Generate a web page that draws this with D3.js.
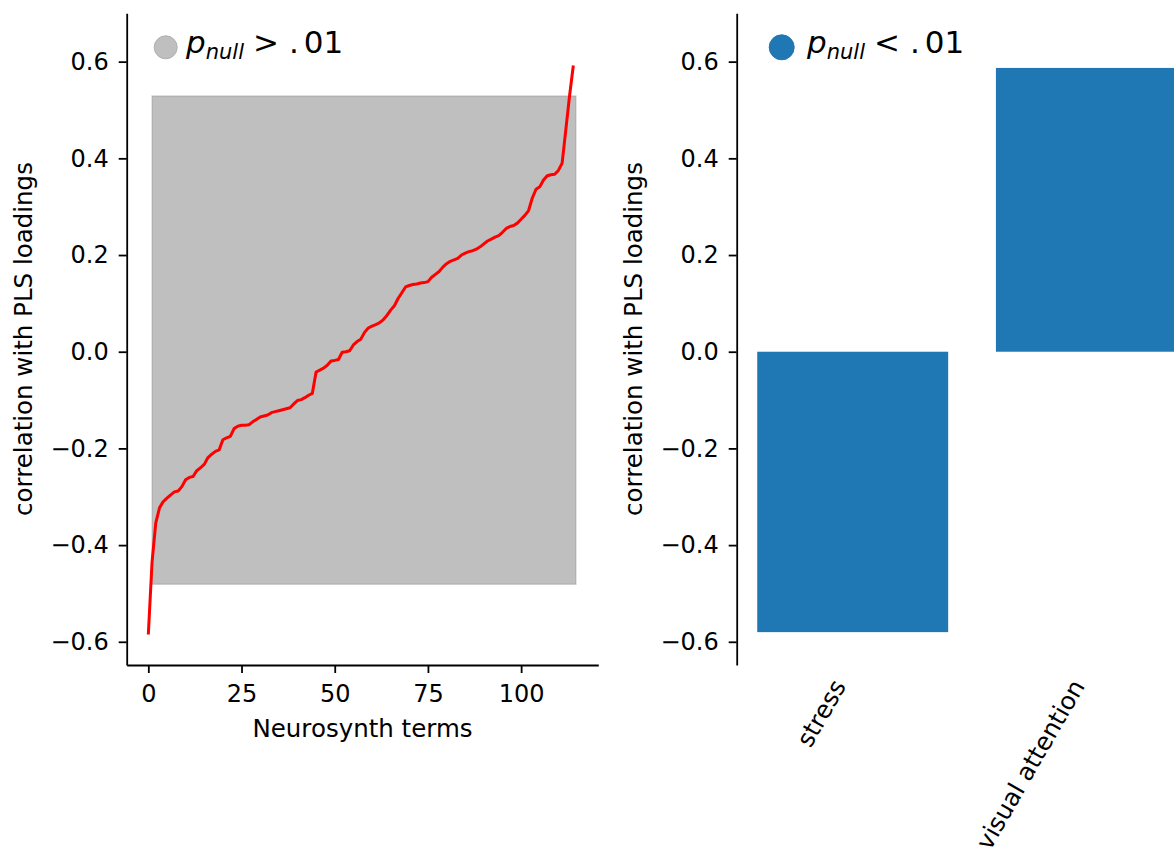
<!DOCTYPE html>
<html>
<head>
<meta charset="utf-8">
<script src="https://cdn.jsdelivr.net/npm/d3@7"></script>
<style>
  body { margin: 0; background: #fff; }
  svg { display: block; font-family: "DejaVu Sans", sans-serif; }
</style>
</head>
<body>
<svg id="drawing_region"></svg>
<script>
// sorted correlations of every Neurosynth term with the PLS loadings
const corrValues = [
  -0.585, -0.435, -0.354, -0.323, -0.310, -0.303, -0.296, -0.290, -0.288, -0.279,
  -0.265, -0.260, -0.258, -0.246, -0.240, -0.233, -0.219, -0.212, -0.206, -0.203,
  -0.182, -0.178, -0.175, -0.159, -0.154, -0.152, -0.152, -0.151, -0.145, -0.140,
  -0.135, -0.133, -0.131, -0.126, -0.124, -0.122, -0.120, -0.118, -0.116, -0.108,
  -0.101, -0.099, -0.095, -0.090, -0.086, -0.042, -0.038, -0.034, -0.028, -0.019,
  -0.018, -0.016, -0.001, 0.000, 0.002, 0.014, 0.021, 0.026, 0.040, 0.049,
  0.053, 0.056, 0.060, 0.066, 0.075, 0.086, 0.095, 0.110, 0.122, 0.134,
  0.137, 0.139, 0.140, 0.142, 0.143, 0.145, 0.154, 0.160, 0.166, 0.175,
  0.182, 0.187, 0.190, 0.193, 0.200, 0.204, 0.207, 0.209, 0.212, 0.217,
  0.223, 0.229, 0.233, 0.237, 0.240, 0.247, 0.255, 0.259, 0.261, 0.266,
  0.274, 0.282, 0.292, 0.318, 0.336, 0.341, 0.355, 0.364, 0.366, 0.367,
  0.375, 0.390, 0.460, 0.530, 0.592
];

// null band (gray box): correlation range and term span
const nullRange = [-0.481, 0.529];
const nullTermSpan = [1, 114.7];

// terms with p_null < .01
const sigTerms = ['stress', 'visual attention'];
const sigCorr = [-0.58, 0.587];

const yTicks = [-0.6, -0.4, -0.2, 0.0, 0.2, 0.4, 0.6];
const xTicks = [0, 25, 50, 75, 100];

const svg = d3.select('#drawing_region')
  .attr('width', 1174)
  .attr('height', 849);

const tickFont = 24;
const labelFont = 24.5;

// shared y scale (both panels use the same limits)
const yscale = d3.scaleLinear()
  .domain([-0.648, 0.700])
  .range([665, 13.3]);

const yaxis = d3.axisLeft(yscale)
  .tickValues(yTicks)
  .tickFormat(d3.format('.1f'))
  .tickSizeInner(8)
  .tickSizeOuter(0)
  .tickPadding(10);

function styleAxis(g) {
  g.select('.domain').attr('stroke', '#000').attr('stroke-width', 1.8);
  g.selectAll('.tick line').attr('stroke', '#000').attr('stroke-width', 1.8);
  g.selectAll('.tick text')
    .attr('font-size', tickFont)
    .attr('font-family', '"DejaVu Sans", sans-serif')
    .attr('fill', '#000');
}

function legend(cx, cy, r, color, edge, tx, rel) {
  svg.append('circle')
    .attr('cx', cx).attr('cy', cy).attr('r', r)
    .attr('fill', color)
    .attr('stroke', edge).attr('stroke-width', 1);
  const t = svg.append('text')
    .attr('x', tx).attr('y', 53.3)
    .attr('font-size', 31)
    .attr('fill', '#000');
  t.append('tspan').attr('font-style', 'italic').text('p');
  t.append('tspan').attr('font-style', 'italic').attr('font-size', 21).attr('dy', 6).text('null');
  t.append('tspan').attr('dy', -6).attr('dx', 9).text(rel);
  t.append('tspan').attr('dx', 10).text('.');
  t.append('tspan').attr('dx', 5).text('01');
}

// ---------- left panel: all terms ----------
const xscale = d3.scaleLinear()
  .domain([-5.8, 120.7])
  .range([126.7, 598.3]);

const left = svg.append('g');

left.append('rect')
  .attr('x', xscale(nullTermSpan[0]))
  .attr('y', yscale(nullRange[1]))
  .attr('width', xscale(nullTermSpan[1]) - xscale(nullTermSpan[0]))
  .attr('height', yscale(nullRange[0]) - yscale(nullRange[1]))
  .attr('fill', '#808080').attr('fill-opacity', 0.5)
  .attr('stroke', '#808080').attr('stroke-opacity', 0.3).attr('stroke-width', 1.5);

const line = d3.line()
  .x((d, i) => xscale(i))
  .y(d => yscale(d));

left.append('path')
  .attr('d', line(corrValues))
  .attr('fill', 'none')
  .attr('stroke', '#ff0000')
  .attr('stroke-width', 3)
  .attr('stroke-linejoin', 'round');

left.append('g')
  .attr('transform', `translate(${xscale.range()[0]}, 0)`)
  .call(yaxis)
  .call(styleAxis);

left.append('g')
  .attr('transform', `translate(0, ${yscale.range()[0]})`)
  .call(d3.axisBottom(xscale)
    .tickValues(xTicks)
    .tickFormat(d3.format('d'))
    .tickSizeInner(8)
    .tickSizeOuter(0)
    .tickPadding(12))
  .call(styleAxis);

left.append('text')
  .attr('transform', 'translate(32, 339) rotate(-90)')
  .attr('text-anchor', 'middle')
  .attr('font-size', labelFont)
  .text('correlation with PLS loadings');

left.append('text')
  .attr('x', d3.mean(xscale.range()))
  .attr('y', 736.7)
  .attr('text-anchor', 'middle')
  .attr('font-size', labelFont)
  .text('Neurosynth terms');

legend(165.7, 47.3, 11.5, '#bfbfbf', '#b0b0b0', 186, '>');

// ---------- right panel: significant terms ----------
const bscale = d3.scaleBand()
  .domain(sigTerms)
  .range([736.7, 1207.4])
  .paddingInner(0.2)
  .paddingOuter(0.086);

const right = svg.append('g');

right.selectAll('rect.bar')
  .data(sigTerms)
  .enter()
  .append('rect')
  .attr('class', 'bar')
  .attr('x', d => bscale(d))
  .attr('width', bscale.bandwidth())
  .attr('y', (d, i) => yscale(Math.max(0, sigCorr[i])))
  .attr('height', (d, i) => Math.abs(yscale(sigCorr[i]) - yscale(0)))
  .attr('fill', '#1f77b4');

right.append('g')
  .attr('transform', `translate(${bscale.range()[0]}, 0)`)
  .call(yaxis)
  .call(styleAxis);

const xb = right.append('g')
  .attr('transform', `translate(0, ${yscale.range()[0]})`)
  .call(d3.axisBottom(bscale).tickSize(0).tickPadding(0))
  .call(styleAxis);
xb.select('.domain').remove();
xb.selectAll('.tick text')
  .attr('font-size', labelFont)
  .attr('x', 0).attr('y', 0).attr('dy', 0)
  .attr('text-anchor', 'end')
  .attr('transform', 'translate(-6, 21) rotate(-60)');

right.append('text')
  .attr('transform', 'translate(642, 339) rotate(-90)')
  .attr('text-anchor', 'middle')
  .attr('font-size', labelFont)
  .text('correlation with PLS loadings');

legend(781.7, 47.3, 12.5, '#1f77b4', '#1f77b4', 807, '<');
</script>
</body>
</html>
